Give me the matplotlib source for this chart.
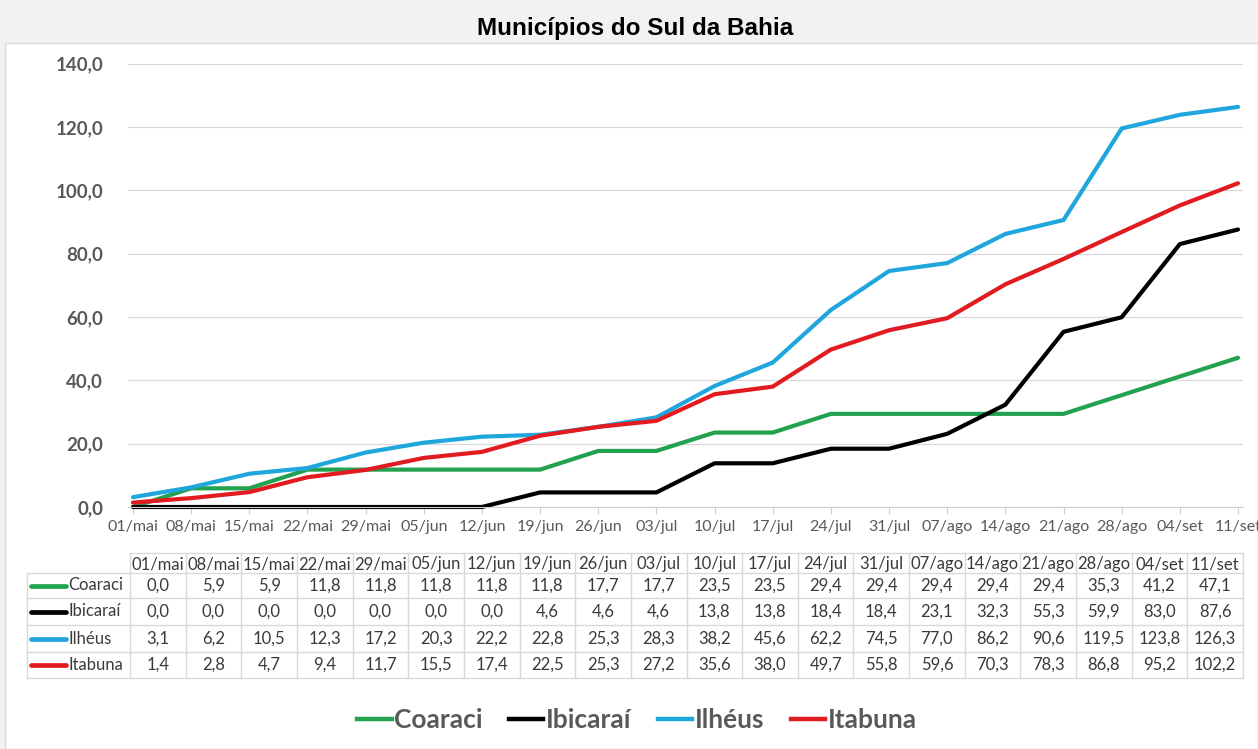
import matplotlib
matplotlib.use("Agg")
import matplotlib.pyplot as plt
from matplotlib.patches import Rectangle
from matplotlib.lines import Line2D

dates = ["01/mai", "08/mai", "15/mai", "22/mai", "29/mai", "05/jun", "12/jun", "19/jun",
         "26/jun", "03/jul", "10/jul", "17/jul", "24/jul", "31/jul", "07/ago", "14/ago",
         "21/ago", "28/ago", "04/set", "11/set"]
coaraci = [0.0, 5.9, 5.9, 11.8, 11.8, 11.8, 11.8, 11.8, 17.7, 17.7, 23.5, 23.5, 29.4, 29.4,
           29.4, 29.4, 29.4, 35.3, 41.2, 47.1]
ibicarai = [0.0, 0.0, 0.0, 0.0, 0.0, 0.0, 0.0, 4.6, 4.6, 4.6, 13.8, 13.8, 18.4, 18.4, 23.1,
            32.3, 55.3, 59.9, 83.0, 87.6]
ilheus = [3.1, 6.2, 10.5, 12.3, 17.2, 20.3, 22.2, 22.8, 25.3, 28.3, 38.2, 45.6, 62.2, 74.5,
          77.0, 86.2, 90.6, 119.5, 123.8, 126.3]
itabuna = [1.4, 2.8, 4.7, 9.4, 11.7, 15.5, 17.4, 22.5, 25.3, 27.2, 35.6, 38.0, 49.7, 55.8,
           59.6, 70.3, 78.3, 86.8, 95.2, 102.2]
names = ["Coaraci", "Ibicaraí", "Ilhéus", "Itabuna"]
series = [coaraci, ibicarai, ilheus, itabuna]
colors = ["#22a24f", "#000000", "#1fa7dd", "#e11b1f"]
yticks = [0, 20, 40, 60, 80, 100, 120, 140]
title = "Municípios do Sul da Bahia"

W, H = 1258, 749
fig = plt.figure(figsize=(W / 100, H / 100), dpi=100)
fig.patch.set_facecolor("#f2f2f2")

FONT = ["Lato", "DejaVu Sans"]
GRAY = "#595959"
TXT = "#3a3a3a"

# overlay axes in pixel coordinates
ov = fig.add_axes([0, 0, 1, 1], zorder=0)
ov.set_xlim(0, W)
ov.set_ylim(H, 0)
ov.axis("off")
ov.add_patch(Rectangle((5, 43), W - 5, H - 43, facecolor="white", edgecolor="#d9d9d9", lw=1))

fig.text(635 / W, 1 - 28 / H, title, ha="center", va="center", fontsize=17.5, fontweight="bold",
         family=["Liberation Sans", "DejaVu Sans"], color="black")

# main chart
left, right, top, bottom = 128, 1243, 63.5, 507
ax = fig.add_axes([left / W, 1 - bottom / H, (right - left) / W, (bottom - top) / H], zorder=1)
ax.set_facecolor("none")
x = list(range(len(dates)))
for name, vals, c in zip(names, series, colors):
    ax.plot(x, vals, color=c, lw=3.0, solid_capstyle="round", solid_joinstyle="round",
            label=name, clip_on=False)
pad = 0.086
ax.set_xlim(-pad, len(dates) - 1 + pad)
ax.set_ylim(0, 140)
ax.set_yticks(yticks)
ax.set_yticklabels([f"{v:.1f}".replace(".", ",") for v in yticks], fontsize=13.5,
                   fontweight="bold", color=GRAY, family=FONT)
ax.set_xticks(x)
ax.set_xticklabels(dates, fontsize=11.5, color=GRAY, family=FONT)
ax.grid(axis="y", color="#d9d9d9", lw=0.9)
ax.set_axisbelow(True)
for s in ["top", "right", "left"]:
    ax.spines[s].set_visible(False)
ax.spines["bottom"].set_color("#d0d0d0")
ax.tick_params(axis="y", length=0, pad=18)
ax.tick_params(axis="x", length=5, color="#d0d0d0", pad=4, direction="out")

# data table
tl, tr = 130, 1243
cw = (tr - tl) / len(dates)
hdr_top, hdr_bot = 553, 573
row_edges = [573, 598, 625, 652, 678]
lab_left = 27
lc = "#d9d9d9"
ov.plot([tl, tr], [hdr_top, hdr_top], color=lc, lw=1)
for yy in row_edges:
    ov.plot([lab_left, tr], [yy, yy], color=lc, lw=1)
for i in range(len(dates) + 1):
    ov.plot([tl + i * cw] * 2, [hdr_top, row_edges[-1]], color=lc, lw=1)
ov.plot([lab_left, lab_left], [row_edges[0], row_edges[-1]], color=lc, lw=1)
for i, d in enumerate(dates):
    ov.text(tl + (i + 0.5) * cw, (hdr_top + hdr_bot) / 2 + 1, d, ha="center", va="center",
            fontsize=12, color=TXT, family=FONT)
for r, (name, vals, c) in enumerate(zip(names, series, colors)):
    yc = (row_edges[r] + row_edges[r + 1]) / 2
    ov.plot([31, 66], [yc, yc], color=c, lw=3.4, solid_capstyle="round")
    ov.text(68, yc, name, ha="left", va="center", fontsize=12, color=TXT, family=FONT)
    for i, v in enumerate(vals):
        ov.text(tl + (i + 0.5) * cw, yc, f"{v:.1f}".replace(".", ","), ha="center",
                va="center", fontsize=12, color=TXT, family=FONT)

# legend
handles = [Line2D([], [], color=c, lw=3.2) for c in colors]
leg = fig.legend(handles, names, loc="center", bbox_to_anchor=(637 / W, 1 - 720 / H), ncol=4,
                 frameon=False, handlelength=1.3, handletextpad=0.1,
                 columnspacing=1.0, prop={"family": FONT, "size": 19, "weight": "bold"})
for t in leg.get_texts():
    t.set_color(GRAY)

fig.savefig("out.png", dpi=100, facecolor=fig.get_facecolor())
